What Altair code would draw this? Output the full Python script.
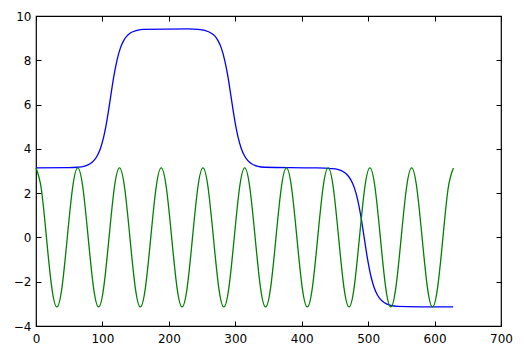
import altair as alt
import pandas as pd

# Blue series
blue_x = [0, 50, 62, 72, 82, 87, 92, 97, 102, 107, 112, 117, 122, 127, 132, 137, 142, 152, 162,
          230, 244, 254, 264, 269, 274, 279, 284, 289, 294, 299, 304, 309, 314, 319, 324, 334, 344,
          420, 444, 454, 464, 469, 474, 479, 484, 489, 494, 499, 504, 509, 514, 519, 524, 534, 544, 628]
blue_y = [3.14, 3.15, 3.17, 3.21, 3.34, 3.47, 3.68, 4.02, 4.55, 5.32, 6.28, 7.25, 8.01, 8.55, 8.89, 9.10, 9.23, 9.35, 9.40,
          9.42, 9.40, 9.35, 9.22, 9.10, 8.89, 8.55, 8.01, 7.25, 6.28, 5.32, 4.55, 4.02, 3.68, 3.47, 3.34, 3.21, 3.17,
          3.14, 3.11, 3.07, 2.94, 2.81, 2.60, 2.26, 1.73, 0.96, 0.0, -0.96, -1.73, -2.26, -2.60, -2.81, -2.94, -3.07, -3.11, -3.14]

# Green series
green_x = [0, 7.85, 15.71, 23.56, 31.42, 39.27, 47.12, 54.98, 62.83, 70.69, 78.54, 86.39, 94.25, 102.1,
           109.96, 117.81, 125.66, 133.52, 141.37, 149.23, 157.08, 164.93, 172.79, 180.64, 188.5, 196.35,
           204.2, 212.06, 219.91, 227.77, 235.62, 243.47, 251.33, 259.18, 267.04, 274.89, 282.74, 290.6,
           298.45, 306.31, 314.16, 322.01, 329.87, 337.72, 345.58, 353.43, 361.28, 369.14, 376.99, 384.85,
           392.7, 400.55, 408.41, 416.26, 424.12, 431.97, 439.82, 447.68, 455.53, 463.39, 471.24, 479.09,
           486.95, 494.8, 502.65, 510.51, 518.36, 526.22, 534.07, 541.93, 549.78, 557.63, 565.49, 573.34,
           581.2, 589.05, 596.9, 604.76, 612.61, 620.47, 628.32]
green_y = [3.14, 2.22, 0, -2.22, -3.14, -2.22, 0, 2.22,
           3.14, 2.22, 0, -2.22, -3.14, -2.22, 0, 2.22,
           3.14, 2.22, 0, -2.22, -3.14, -2.22, 0, 2.22,
           3.14, 2.22, 0, -2.22, -3.14, -2.22, 0, 2.22,
           3.14, 2.22, 0, -2.22, -3.14, -2.22, 0, 2.22,
           3.14, 2.22, 0, -2.22, -3.14, -2.22, 0, 2.22,
           3.14, 2.22, 0, -2.22, -3.14, -2.22, 0, 2.22,
           3.14, 2.22, 0, -2.22, -3.14, -2.22, 0, 2.22,
           3.14, 2.22, 0, -2.22, -3.14, -2.22, 0, 2.22,
           3.14, 2.22, 0, -2.22, -3.14, -2.22, 0, 2.22,
           3.14]

x_ticks = [0, 100, 200, 300, 400, 500, 600, 700]
y_ticks = [-4, -2, 0, 2, 4, 6, 8, 10]

df_blue = pd.DataFrame({"x": blue_x, "y": blue_y})
df_green = pd.DataFrame({"x": green_x, "y": green_y})

xscale = alt.Scale(domain=[0, 700], nice=False, zero=False)
yscale = alt.Scale(domain=[-4, 10], nice=False, zero=False)

common = dict(domain=False, grid=False, tickColor="black", tickSize=5, tickWidth=1,
              offset=-5, labelFont="DejaVu Sans", labelFontSize=12, labelColor="black",
              labelFlush=False, labelOverlap=False, title=None)

blue = alt.Chart(df_blue).mark_line(color="#0000ff", strokeWidth=1.3, interpolate="monotone").encode(
    x=alt.X("x:Q", scale=xscale, axis=alt.Axis(orient="bottom", values=x_ticks, labelPadding=7, **common)),
    y=alt.Y("y:Q", scale=yscale, axis=alt.Axis(orient="left", values=y_ticks, labelPadding=5, **common)),
)
green = alt.Chart(df_green).mark_line(color="#008000", strokeWidth=1.3, interpolate="natural").encode(
    x=alt.X("x:Q", scale=xscale, axis=alt.Axis(orient="top", values=x_ticks, labels=False, **common)),
    y=alt.Y("y:Q", scale=yscale, axis=alt.Axis(orient="right", values=y_ticks, labels=False, **common)),
)

chart = alt.layer(blue, green).resolve_axis(x="independent", y="independent").properties(
    width=465, height=310,
    padding={"left": 36, "top": 16, "right": 23, "bottom": 30},
    autosize=alt.AutoSizeParams(type="none"),
    background="white",
).configure_view(stroke="black", strokeWidth=1.2)

chart.save("out.html", embed_options={"renderer": "svg", "actions": False})
